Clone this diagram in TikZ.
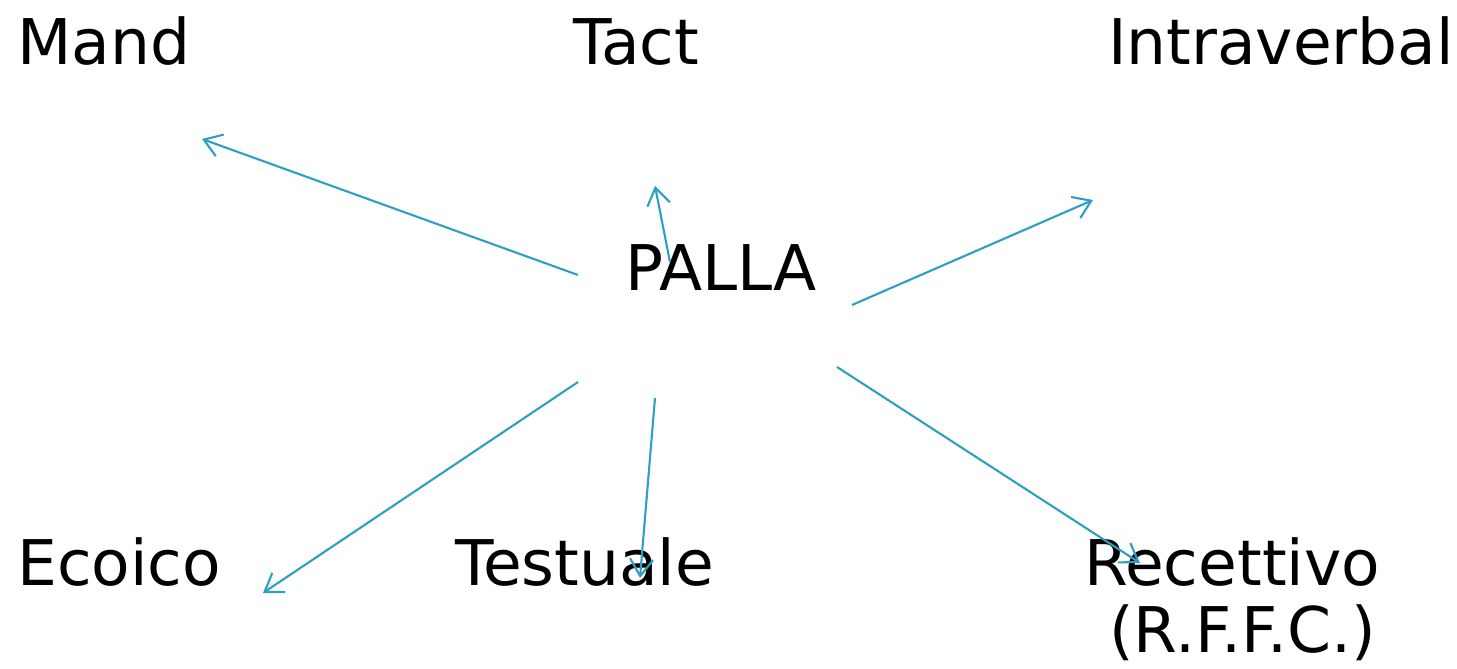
\documentclass[tikz,border=0pt]{standalone}
\usepackage{fontspec}
\setmainfont{DejaVu Sans}
\usetikzlibrary{arrows.meta}
\definecolor{linkblue}{RGB}{44,160,192}
\tikzset{
  word/.style={anchor=base west, inner sep=0pt, font=\fontsize{63}{76}\selectfont},
  link/.style={draw=linkblue, line width=2.1pt, -{Straight Barb[length=17pt,width=23pt,line width=2.1pt]}}
}
\begin{document}
\begin{tikzpicture}[x=1pt,y=-1pt]
  \useasboundingbox (0,0) rectangle (1457,669);
  % labels
  \node[word] (mand)   at (17,65)   {Mand};
  \node[word] (tact)   at (573,65)  {Tact};
  \node[word] (intra)  at (1108,65) {Intraverbal};
  \node[word] (palla)  at (625,290) {PALLA};
  \node[word] (ecoico) at (17,585)  {Ecoico};
  \node[word] (test)   at (455,585) {Testuale};
  \node[word] (rec)    at (1084,585) {Recettivo};
  \node[word] (rffc)   at (1109,652) {(R.F.F.C.)};
  % arrow ends
  \coordinate (s1) at (578,275);  \coordinate (t1) at (202,139);
  \coordinate (s2) at (670,262);  \coordinate (t2) at (655,186);
  \coordinate (s3) at (852,305);  \coordinate (t3) at (1093,200);
  \coordinate (s4) at (578,382);  \coordinate (t4) at (263,593);
  \coordinate (s5) at (655,398);  \coordinate (t5) at (640,578);
  \coordinate (s6) at (837,367);  \coordinate (t6) at (1140,563);
  % connectors
  \draw[link] (s1) -- (t1);
  \draw[link] (s2) -- (t2);
  \draw[link] (s3) -- (t3);
  \draw[link] (s4) -- (t4);
  \draw[link] (s5) -- (t5);
  \draw[link] (s6) -- (t6);
\end{tikzpicture}
\end{document}
